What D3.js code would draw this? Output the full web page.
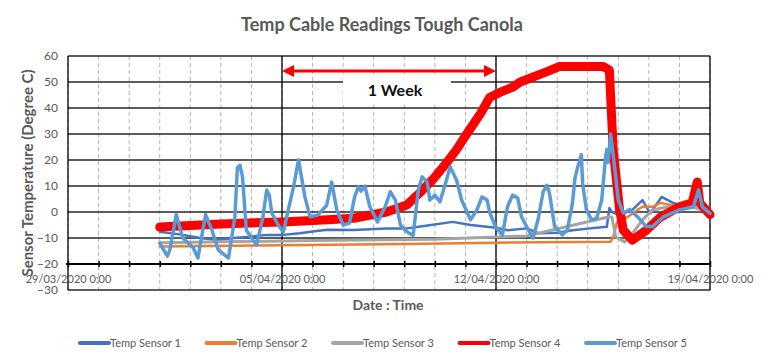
<!DOCTYPE html>
<html>
<head>
<meta charset="utf-8">
<script src="https://cdn.jsdelivr.net/npm/d3@7"></script>
<style>
  body { margin: 0; background: #fff; }
  text { font-family: Lato, "Open Sans", sans-serif; }
</style>
</head>
<body>
<div id="chart"></div>
<script>
// chart values
const chartTitle = "Temp Cable Readings Tough Canola";
const xTitle = "Date : Time";
const yTitle = "Sensor Temperature (Degree C)";
const yTicks = [60, 50, 40, 30, 20, 10, 0, -10, -20, -30];
const xTickLabels = ["2020-03-29 00:00", "2020-04-05 00:00", "2020-04-12 00:00", "2020-04-19 00:00"];
const seriesNames = ["Temp Sensor 1", "Temp Sensor 2", "Temp Sensor 3", "Temp Sensor 4", "Temp Sensor 5"];

const sensor1 = [
  ["2020-04-01 00:00", -7.6], ["2020-04-01 18:00", -8.8], ["2020-04-02 08:00", -10], ["2020-04-02 21:00", -10.8],
  ["2020-04-03 10:00", -10], ["2020-04-03 23:00", -9.5], ["2020-04-04 12:00", -8.8], ["2020-04-05 01:00", -8.8],
  ["2020-04-05 14:00", -8.2], ["2020-04-06 03:00", -7.3], ["2020-04-06 12:00", -6.8], ["2020-04-07 08:00", -6.9],
  ["2020-04-08 10:00", -6.3], ["2020-04-09 02:00", -6.3], ["2020-04-09 17:00", -5.3], ["2020-04-10 14:00", -3.8],
  ["2020-04-11 04:00", -5], ["2020-04-11 17:00", -5.7], ["2020-04-12 03:00", -6.3], ["2020-04-12 09:00", -7],
  ["2020-04-13 00:00", -6.3], ["2020-04-13 10:00", -8.2], ["2020-04-14 00:00", -8], ["2020-04-14 12:00", -7],
  ["2020-04-15 02:00", -6.3], ["2020-04-15 15:00", -5.7], ["2020-04-15 17:00", 1.5], ["2020-04-15 19:00", 0],
  ["2020-04-16 01:00", -1.2], ["2020-04-16 11:00", 0.8], ["2020-04-16 19:00", 4.6], ["2020-04-17 01:00", -0.5],
  ["2020-04-17 10:00", 5.8], ["2020-04-17 19:00", 3.5], ["2020-04-18 06:00", 2], ["2020-04-18 14:00", 4],
  ["2020-04-19 00:00", -0.5]
];
const sensor2 = [
  ["2020-04-01 00:00", -13.3], ["2020-04-05 00:00", -12.8], ["2020-04-09 00:00", -12.3], ["2020-04-12 00:00", -11.8],
  ["2020-04-15 18:00", -11.4], ["2020-04-15 20:00", -9.6], ["2020-04-15 23:00", -4], ["2020-04-16 07:00", -2],
  ["2020-04-16 15:00", 0.8], ["2020-04-16 19:00", 2], ["2020-04-17 03:00", 2], ["2020-04-17 09:00", 3.5],
  ["2020-04-18 00:00", 2], ["2020-04-18 14:00", 3], ["2020-04-19 00:00", 0]
];
const sensor3 = [
  ["2020-04-01 00:00", -11.8], ["2020-04-06 00:00", -11], ["2020-04-10 00:00", -10.5], ["2020-04-12 00:00", -9.6],
  ["2020-04-13 00:00", -9.2], ["2020-04-15 17:00", -1.8], ["2020-04-15 19:00", -2], ["2020-04-15 22:00", -9.6],
  ["2020-04-16 05:00", -11.5], ["2020-04-16 12:00", -7.7], ["2020-04-16 19:00", -3], ["2020-04-17 03:00", 0.8],
  ["2020-04-17 15:00", 2], ["2020-04-18 06:00", 2.5], ["2020-04-19 00:00", 0]
];
const sensor4 = [
  ["2020-04-01 00:00", -5.8], ["2020-04-03 00:00", -4.6], ["2020-04-05 00:00", -3.8], ["2020-04-06 12:00", -3],
  ["2020-04-07 08:00", -2.4], ["2020-04-08 10:00", 0], ["2020-04-09 02:00", 2.7], ["2020-04-09 12:00", 7.3],
  ["2020-04-09 22:00", 12.3], ["2020-04-10 09:00", 18.8], ["2020-04-10 17:00", 24], ["2020-04-11 01:00", 30],
  ["2020-04-11 12:00", 38], ["2020-04-11 19:00", 44], ["2020-04-12 03:00", 46], ["2020-04-12 13:00", 48],
  ["2020-04-12 19:00", 50], ["2020-04-13 16:00", 54], ["2020-04-14 02:00", 56], ["2020-04-15 12:00", 56],
  ["2020-04-15 17:00", 54.6], ["2020-04-15 20:00", 24], ["2020-04-16 01:00", 1], ["2020-04-16 04:00", -7],
  ["2020-04-16 11:00", -10.8], ["2020-04-16 22:00", -7], ["2020-04-17 09:00", -2], ["2020-04-18 00:00", 2],
  ["2020-04-18 10:00", 3.5], ["2020-04-18 14:00", 11.5], ["2020-04-18 16:00", 3.5], ["2020-04-19 00:00", -1]
];
const sensor5 = [
  ["2020-04-01 00:00", -12], ["2020-04-01 06:00", -17], ["2020-04-01 08:00", -14.5], ["2020-04-01 13:00", -1],
  ["2020-04-01 18:00", -10], ["2020-04-02 02:00", -13.5], ["2020-04-02 06:00", -17.7], ["2020-04-02 12:00", -1],
  ["2020-04-02 17:00", -7], ["2020-04-02 22:00", -14.6], ["2020-04-03 06:00", -17.7], ["2020-04-03 11:00", -2],
  ["2020-04-03 13:00", 17], ["2020-04-03 15:00", 18], ["2020-04-03 17:00", 13.5], ["2020-04-03 20:00", -7],
  ["2020-04-04 04:00", -12.7], ["2020-04-04 09:00", -2], ["2020-04-04 12:00", 8.5], ["2020-04-04 14:00", 6.5],
  ["2020-04-04 16:00", -0.4], ["2020-04-04 21:00", -5], ["2020-04-05 01:00", -7.7], ["2020-04-05 09:00", 9.6],
  ["2020-04-05 13:00", 20], ["2020-04-05 18:00", 5.8], ["2020-04-05 22:00", -1.8], ["2020-04-06 04:00", -1.2],
  ["2020-04-06 11:00", 2.5], ["2020-04-06 15:00", 11.5], ["2020-04-06 19:00", 0.8], ["2020-04-07 00:00", -5],
  ["2020-04-07 05:00", -4.3], ["2020-04-07 09:00", 5.8], ["2020-04-07 12:00", 9.7], ["2020-04-07 14:00", 8],
  ["2020-04-07 17:00", 10], ["2020-04-07 21:00", 2], ["2020-04-08 03:00", -3.8], ["2020-04-08 09:00", 2],
  ["2020-04-08 13:00", 7.8], ["2020-04-08 17:00", 4.6], ["2020-04-08 21:00", -5], ["2020-04-09 02:00", -7.6],
  ["2020-04-09 07:00", -9], ["2020-04-09 11:00", 8.5], ["2020-04-09 14:00", 13.5], ["2020-04-09 18:00", 11.5],
  ["2020-04-09 20:00", 4.6], ["2020-04-10 00:00", 6.5], ["2020-04-10 04:00", 3.9], ["2020-04-10 08:00", 10.4],
  ["2020-04-10 12:00", 17.4], ["2020-04-10 14:00", 15.4], ["2020-04-10 17:00", 12.3], ["2020-04-10 21:00", 4.6],
  ["2020-04-11 04:00", -3], ["2020-04-11 09:00", 0.8], ["2020-04-11 13:00", 5.8], ["2020-04-11 17:00", 4.6],
  ["2020-04-11 19:00", 0], ["2020-04-11 23:00", -5], ["2020-04-12 05:00", -9], ["2020-04-12 09:00", 2],
  ["2020-04-12 13:00", 6.5], ["2020-04-12 17:00", 5.4], ["2020-04-12 20:00", -1.8], ["2020-04-13 00:00", -5.6],
  ["2020-04-13 05:00", -10], ["2020-04-13 09:00", -3], ["2020-04-13 13:00", 7.7], ["2020-04-13 16:00", 10.3],
  ["2020-04-13 18:00", 7.2], ["2020-04-13 22:00", -5.6], ["2020-04-14 04:00", -8.8], ["2020-04-14 08:00", -7],
  ["2020-04-14 12:00", 3.3], ["2020-04-14 14:00", 13], ["2020-04-14 16:00", 17], ["2020-04-14 19:00", 22],
  ["2020-04-14 20:00", 11], ["2020-04-14 23:00", 0.8], ["2020-04-15 03:00", -3], ["2020-04-15 07:00", -2.5],
  ["2020-04-15 11:00", 4.6], ["2020-04-15 14:00", 21], ["2020-04-15 15:00", 24], ["2020-04-15 16:00", 19],
  ["2020-04-15 18:00", 30], ["2020-04-15 19:00", 26], ["2020-04-15 22:00", 13.5], ["2020-04-16 00:00", 4.6],
  ["2020-04-16 04:00", -0.4], ["2020-04-16 09:00", 1], ["2020-04-16 15:00", -1.8], ["2020-04-16 22:00", -5.6],
  ["2020-04-17 03:00", -5.6], ["2020-04-17 11:00", -2], ["2020-04-18 00:00", 0.8], ["2020-04-18 11:00", 2],
  ["2020-04-18 15:00", 8.5], ["2020-04-18 18:00", 2], ["2020-04-19 00:00", -0.5]
];
const weekAnnotation = { label: "1 Week", from: "2020-04-05 00:00", to: "2020-04-12 00:00", value: 55 };

// styles
const colors = ["#4472C4", "#ED7D31", "#A5A5A5", "#FF0000", "#5B9BD5"];
const widths = [2.5, 2.5, 3, 9, 3.5];
const textGray = "#595959";

const W = 768, H = 364;
const margin = { top: 56, right: 58, bottom: 74, left: 68 };
const iw = W - margin.left - margin.right;
const ih = H - margin.top - margin.bottom;

const parse = d3.timeParse("%Y-%m-%d %H:%M");
const series = [sensor1, sensor2, sensor3, sensor4, sensor5].map(s => s.map(d => ({ t: parse(d[0]), v: d[1] })));

const svg = d3.select("#chart").append("svg")
  .attr("width", W)
  .attr("height", H);

const g = svg.append("g").attr("transform", `translate(${margin.left},${margin.top})`);

const x = d3.scaleTime()
  .domain([parse(xTickLabels[0]), parse(xTickLabels[xTickLabels.length - 1])])
  .range([0, iw]);
const y = d3.scaleLinear()
  .domain([d3.min(yTicks), d3.max(yTicks)])
  .range([ih, 0]);

// daily dashed grid
const days = d3.timeDay.range(x.domain()[0], d3.timeDay.offset(x.domain()[1], 1));
g.append("g").selectAll("line").data(days).join("line")
  .attr("x1", d => x(d)).attr("x2", d => x(d))
  .attr("y1", 0).attr("y2", ih)
  .attr("stroke", "#b5b5b5")
  .attr("stroke-dasharray", "4,3")
  .attr("stroke-width", 1);

// horizontal grid
g.append("g").selectAll("line").data(yTicks).join("line")
  .attr("x1", 0).attr("x2", iw)
  .attr("y1", d => y(d)).attr("y2", d => y(d))
  .attr("stroke", "#262626")
  .attr("stroke-width", 1.3);

// weekly solid lines
const weeks = xTickLabels.map(parse);
g.append("g").selectAll("line").data(weeks).join("line")
  .attr("x1", d => x(d)).attr("x2", d => x(d))
  .attr("y1", 0).attr("y2", ih)
  .attr("stroke", "#000")
  .attr("stroke-width", 1.3);

// y tick labels
const yAxis = g.append("g")
  .call(d3.axisLeft(y).tickValues(yTicks).tickSize(0).tickPadding(10));
yAxis.select(".domain").remove();
yAxis.selectAll("text")
  .attr("fill", textGray)
  .style("font-size", "12px")
  .style("font-family", "Lato, sans-serif");

// x axis at -20 with day ticks
const xAxis = g.append("g")
  .attr("transform", `translate(0,${y(-20) - 3})`)
  .call(d3.axisBottom(x).tickValues(days).tickSize(6).tickFormat(""));
xAxis.select(".domain").remove();
xAxis.selectAll(".tick line").attr("stroke", "#000").attr("stroke-width", 1.5);
g.append("line")
  .attr("x1", -2).attr("x2", iw)
  .attr("y1", y(-20)).attr("y2", y(-20))
  .attr("stroke", "#000")
  .attr("stroke-width", 2.2);

// x tick labels
const xFmt = d3.timeFormat("%d/%m/%Y %-H:%M");
const xLabels = g.append("g")
  .attr("transform", `translate(0,${y(-20)})`)
  .call(d3.axisBottom(x).tickValues(weeks).tickSize(0).tickPadding(11).tickFormat(xFmt));
xLabels.select(".domain").remove();
xLabels.selectAll("text")
  .attr("fill", textGray)
  .style("font-size", "11px")
  .style("font-family", "Lato, sans-serif");

// series lines
const line = d3.line().x(d => x(d.t)).y(d => y(d.v));
g.append("g").selectAll("path").data(series).join("path")
  .attr("d", line)
  .attr("fill", "none")
  .attr("stroke", (d, i) => colors[i])
  .attr("stroke-width", (d, i) => widths[i])
  .attr("stroke-linejoin", "round")
  .attr("stroke-linecap", "round");

// week annotation
const ax1 = x(parse(weekAnnotation.from)), ax2 = x(parse(weekAnnotation.to));
const ay = y(weekAnnotation.value) + 2;
const midX = (ax1 + ax2) / 2 + 6;
g.append("rect")
  .attr("x", midX - 52).attr("y", ay + 5)
  .attr("width", 108).attr("height", 27)
  .attr("fill", "#fff");
g.append("line")
  .attr("x1", ax1 + 10).attr("x2", ax2 - 10)
  .attr("y1", ay).attr("y2", ay)
  .attr("stroke", "#FF0000")
  .attr("stroke-width", 3);
g.append("path")
  .attr("d", `M${ax1},${ay} l12,-6 l0,12 Z M${ax2},${ay} l-12,-6 l0,12 Z`)
  .attr("fill", "#FF0000");
g.append("text")
  .attr("x", midX).attr("y", ay + 25)
  .attr("text-anchor", "middle")
  .style("font-size", "16px")
  .style("font-weight", "bold")
  .attr("fill", "#111")
  .text(weekAnnotation.label);

// titles
svg.append("text")
  .attr("x", 382).attr("y", 31)
  .attr("text-anchor", "middle")
  .style("font-size", "18px")
  .style("font-weight", "bold")
  .attr("fill", textGray)
  .text(chartTitle);

svg.append("text")
  .attr("x", 388).attr("y", 310)
  .attr("text-anchor", "middle")
  .style("font-size", "14px")
  .style("font-weight", "bold")
  .attr("fill", textGray)
  .text(xTitle);

svg.append("text")
  .attr("transform", "translate(33,173) rotate(-90)")
  .attr("text-anchor", "middle")
  .style("font-size", "15px")
  .style("font-weight", "bold")
  .attr("fill", textGray)
  .text(yTitle);

// legend
const legend = svg.append("g").attr("transform", "translate(80,343)");
const items = legend.selectAll("g").data(seriesNames).join("g")
  .attr("transform", (d, i) => `translate(${i * 126.5},0)`);
items.append("line")
  .attr("x1", 0).attr("x2", 29)
  .attr("y1", 0).attr("y2", 0)
  .attr("stroke", (d, i) => colors[i])
  .attr("stroke-width", 4)
  .attr("stroke-linecap", "round");
items.append("text")
  .attr("x", 30).attr("y", 4)
  .style("font-size", "11px")
  .attr("fill", textGray)
  .text(d => d);
</script>
</body>
</html>
